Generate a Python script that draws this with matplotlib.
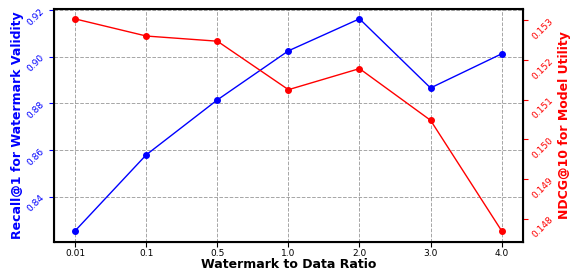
import numpy as np
import matplotlib.pyplot as plt

ratios = ['0.01', '0.1', '0.5', '1.0', '2.0', '3.0', '4.0']
recall = [0.8255, 0.8580, 0.8815, 0.9025, 0.9162, 0.8866, 0.9012]
ndcg = [0.15303, 0.15260, 0.15247, 0.15125, 0.15178, 0.15048, 0.14770]

x = np.arange(len(ratios))

fig, ax1 = plt.subplots(figsize=(5.74, 2.73), dpi=100)

ax1.plot(x, recall, color='blue', marker='o', markersize=4, linewidth=1)
ax1.set_xlabel('Watermark to Data Ratio', fontsize=9, fontweight='bold', labelpad=0)
ax1.set_ylabel('Recall@1 for Watermark Validity', color='blue', fontsize=9, fontweight='bold', labelpad=1)
ax1.tick_params(axis='y', colors='blue', labelsize=6.5, labelrotation=45, pad=2)
ax1.tick_params(axis='x', labelsize=6.5, pad=1.5)
ax1.set_xticks(x)
ax1.set_xticklabels(ratios)
ax1.set_ylim(0.8207, 0.9204)
ax1.set_yticks([0.84, 0.86, 0.88, 0.90, 0.92])
ax1.grid(True, linestyle='--', color='gray', alpha=0.7, linewidth=0.7)
for s in ax1.spines.values():
    s.set_linewidth(1.5)

ax2 = ax1.twinx()
ax2.plot(x, ndcg, color='red', marker='o', markersize=4, linewidth=1)
ax2.set_ylabel('NDCG@10 for Model Utility', color='red', fontsize=9, fontweight='bold', labelpad=2)
ax2.tick_params(axis='y', colors='red', labelsize=6.5, labelrotation=45, pad=2)
ax2.set_ylim(0.14742, 0.15328)
ax2.set_yticks([0.148, 0.149, 0.150, 0.151, 0.152, 0.153])

plt.subplots_adjust(left=0.094, right=0.911, top=0.967, bottom=0.114)
plt.savefig('out.png')
